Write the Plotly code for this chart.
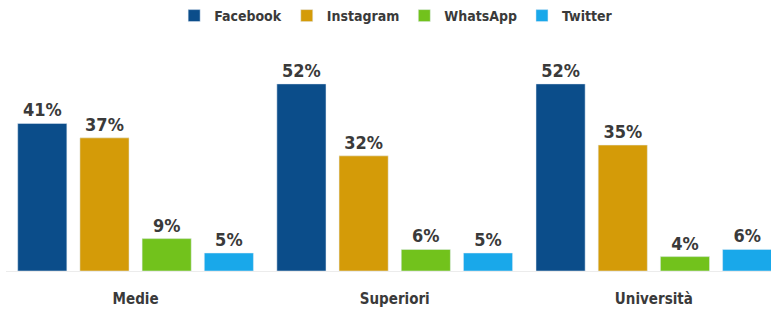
import plotly.graph_objects as go

categories = ["Medie", "Superiori", "Università"]
series_names = ["Facebook", "Instagram", "WhatsApp", "Twitter"]
facebook = [41, 52, 52]
instagram = [37, 32, 35]
whatsapp = [9, 6, 4]
twitter = [5, 5, 6]
colors = ["#0b4d8a", "#d49b08", "#72c21c", "#19a8ea"]

FONT = "DejaVu Sans Condensed, DejaVu Sans, sans-serif"
TXT = "#3a3a3a"

fig = go.Figure()
for name, vals, col in zip(series_names, [facebook, instagram, whatsapp, twitter], colors):
    fig.add_trace(go.Bar(
        name=name, x=categories, y=vals, marker_color=col,
        text=[f"{v}%" for v in vals], textposition="outside",
        textfont=dict(family=FONT, size=18, color=TXT, weight="bold"),
        cliponaxis=False,
    ))

fig.update_layout(
    width=771, height=313,
    margin=dict(l=6, r=0, t=40, b=42),
    barmode="group", bargap=0.04, bargroupgap=0.21,
    plot_bgcolor="white", paper_bgcolor="white",
    font=dict(family=FONT, color=TXT),
    legend=dict(orientation="h", x=0.51, xanchor="center", y=1.0, yanchor="top",
                yref="container", font=dict(family=FONT, size=14, color=TXT, weight="bold"),
                itemwidth=30, traceorder="normal"),
    showlegend=True,
)
fig.update_xaxes(range=[-0.5, 2.452], showline=True, linecolor="#ececec", linewidth=1,
                 tickfont=dict(family=FONT, size=15, color=TXT, weight="bold"), ticks="",
                 ticklabelstandoff=14)
fig.update_yaxes(range=[0, 64.2], visible=False, showgrid=False)

post = """
document.body.style.margin='0';
"""
fig.write_html("out.html", post_script=post, config={"displayModeBar": False})
